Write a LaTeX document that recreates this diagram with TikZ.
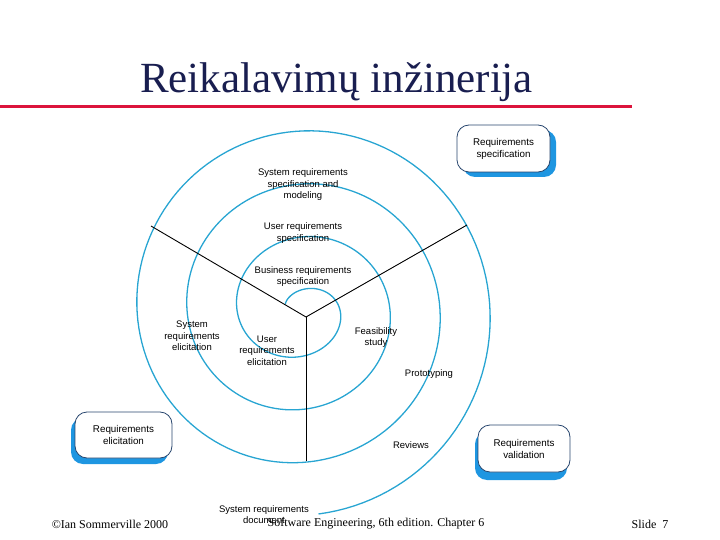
\documentclass[tikz,border=0pt]{standalone}
\usepackage{fontspec}
\setmainfont{Liberation Serif}
\newfontfamily\labelfont{Liberation Sans}
\definecolor{spiralblue}{RGB}{40,165,210}
\definecolor{shadowblue}{RGB}{30,150,225}
\definecolor{boxline}{RGB}{40,70,110}
\definecolor{titleblue}{RGB}{25,30,80}
\definecolor{redline}{RGB}{220,20,60}
\begin{document}
\begin{tikzpicture}[x=1pt,y=-1pt,
  lbl/.style={font=\labelfont\fontsize{9.5}{11.5}\selectfont, align=center, inner sep=0pt},
  boxlbl/.style={font=\labelfont\fontsize{9.8}{12}\selectfont, align=center, inner sep=0pt},
  reqbox/.style={draw=boxline, fill=white, rounded corners=12pt, line width=0.8pt},
  shadowbox/.style={fill=shadowblue, rounded corners=12pt},
  spiralline/.style={draw=spiralblue, line width=1.3pt},
  spoke/.style={draw=black, line width=0.9pt},
  footer/.style={font=\fontsize{12}{14}\selectfont, inner sep=0pt}]
\useasboundingbox (0,0) rectangle (720,540);

% title
\node[font=\fontsize{43}{48}\selectfont, text=titleblue, anchor=base, inner sep=0pt] (title) at (336.5,93) {Reikalavimų inžinerija};
\draw[redline, line width=3.5pt] (0,106.5) -- (632,106.5);

% spiral
\draw[spiralline] plot[domain=-60:1255, samples=500, variable=\t]
  ({301 + (26.5 + (\t/90)*12.5)*sin(\t)}, {310 - (20 + (\t/90)*13.25)*cos(\t)});

% spokes
\coordinate (hub) at (306,317);
\coordinate (ul) at (151,226);
\coordinate (ur) at (467,225);
\coordinate (bot) at (306,461);
\draw[spoke] (hub) -- (ul);
\draw[spoke] (hub) -- (ur);
\draw[spoke] (hub) -- (bot);

% spiral labels
\node[lbl] (ssm) at (303,185) {System requirements\\specification and\\modeling};
\node[lbl] (urs) at (303,233) {User requirements\\specification};
\node[lbl] (brs) at (303,276.5) {Business requirements\\specification};
\node[lbl] (sre) at (192,336) {System\\requirements\\elicitation};
\node[lbl] (ure) at (267,350.5) {User\\requirements\\elicitation};
\node[lbl] (fs) at (376,337.5) {Feasibility\\study};
\node[lbl] (pt) at (429,374) {Prototyping};
\node[lbl] (rv) at (411,445) {Reviews};
\node[lbl] (srd) at (264,514.5) {System requirements\\document};

% boxes with shadows
\fill[shadowbox] (463,130) rectangle (556,177);
\node[reqbox, boxlbl, minimum width=93pt, minimum height=47pt] (spec) at (503.5,148.5) {Requirements\\specification};
\fill[shadowbox] (71,418) rectangle (168,464);
\node[reqbox, boxlbl, minimum width=97pt, minimum height=46pt] (elic) at (123.5,435) {Requirements\\elicitation};
\fill[shadowbox] (475,432) rectangle (567,480);
\node[reqbox, boxlbl, minimum width=92pt, minimum height=47pt] (valid) at (524,448.5) {Requirements\\validation};

% footer
\node[footer] (copy) at (110,524) {©Ian Sommerville 2000};
\node[footer] (book) at (376,524) {Software Engineering, 6th edition. Chapter 6};
\node[footer] (slide) at (650,524) {Slide~~7};
\end{tikzpicture}
\end{document}
